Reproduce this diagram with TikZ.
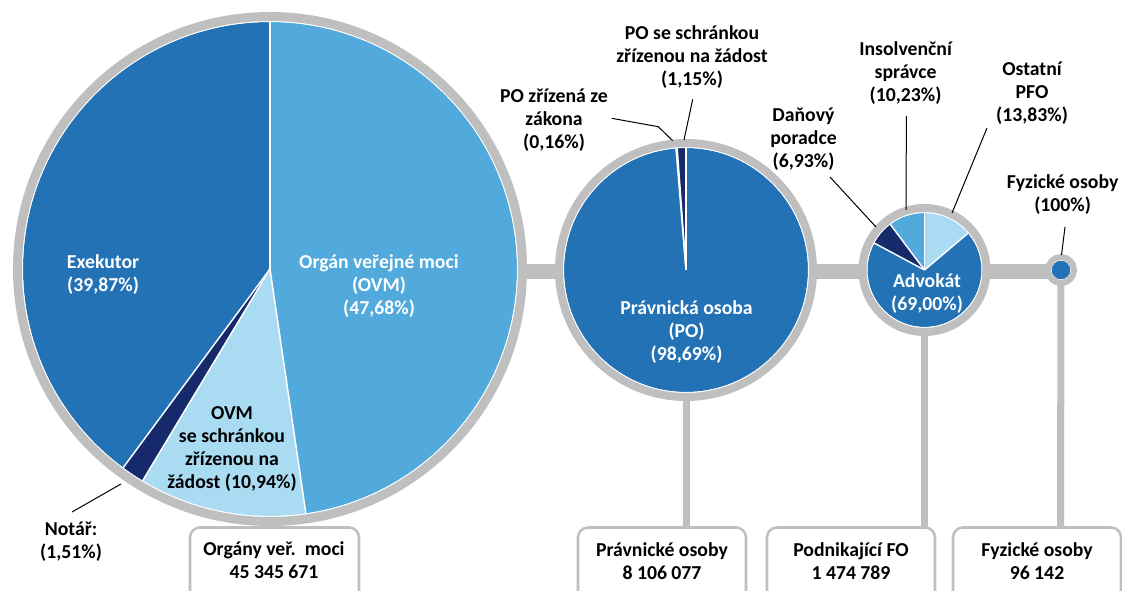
\documentclass[tikz,border=0pt]{standalone}
\usepackage{fontspec}
\setmainfont{Carlito}
\usetikzlibrary{calc}

\definecolor{bluemain}{RGB}{34,114,181}
\definecolor{bluemid}{RGB}{82,169,219}
\definecolor{bluelight}{RGB}{169,220,243}
\definecolor{navy}{RGB}{21,41,107}
\definecolor{ringgray}{RGB}{191,191,191}

% filled pie sector: centre, radius, start angle, end angle, colour
\newcommand{\pieslice}[5]{\fill[#5] (#1) -- ++(#3:#2) arc[start angle=#3, end angle=#4, radius=#2] -- cycle;}
% white separator between sectors: centre, angle, radius
\newcommand{\piesep}[3]{\draw[sep] (#1) -- ++(#2:#3);}

\tikzset{
  lbl/.style={font=\fontsize{14.8}{17.25}\selectfont\bfseries, align=center, inner sep=0pt, text=black},
  inlbl/.style={lbl, text=white},
  leader/.style={draw=black, line width=0.75pt},
  track/.style={draw=ringgray, line width=11.25pt},
  stem/.style={draw=ringgray, line width=5.25pt},
  cardbox/.style={draw=ringgray, line width=1.9pt, fill=white, rounded corners=7.5pt},
  sep/.style={draw=white, line width=1.1pt},
  rim/.style={draw=white, line width=0.75pt},
}

\begin{document}
\begin{tikzpicture}[x=0.75pt, y=0.75pt]
\useasboundingbox (0,0) rectangle (1122,590);
\clip (0,0) rectangle (1122,590);
\fill[white] (0,0) rectangle (1122,590);

% pie centres
\coordinate (cA) at (270,321);
\coordinate (cB) at (686,320);
\coordinate (cC) at (924.5,320);
\coordinate (cD) at (1061,320);

% card tops
\coordinate (topB) at (686,62.5);
\coordinate (topC) at (924.5,62.5);
\coordinate (topD) at (1060.5,62.5);

% horizontal track and vertical stems
\coordinate (trackL) at (270,318);
\coordinate (trackR) at (1061,318);
\draw[track] (trackL) -- (trackR);
\draw[stem] (cB) -- (topB);
\draw[stem] (cC) -- (topC);
\draw[stem] (cD |- trackR) -- (topD);

% cards at the bottom
\draw[cardbox] (190,-20) rectangle (359,62.5);
\draw[cardbox] (578,-20) rectangle (746,62.5);
\draw[cardbox] (767,-20) rectangle (935,62.5);
\draw[cardbox] (953,-20) rectangle (1121,62.5);

% ---- pie: Orgány veřejné moci ----
\pieslice{cA}{247}{90}{-81.648}{bluemid}
\pieslice{cA}{247}{-81.648}{-121.032}{bluelight}
\pieslice{cA}{247}{-121.032}{-126.468}{navy}
\pieslice{cA}{247}{-126.468}{-270}{bluemain}
\piesep{cA}{90}{247}
\piesep{cA}{-81.648}{247}
\piesep{cA}{-121.032}{247}
\piesep{cA}{-126.468}{247}
\draw[rim] (cA) circle[radius=247.5];
\draw[ringgray, line width=6.75pt] (cA) circle[radius=252.5];

% ---- pie: Právnické osoby ----
\pieslice{cB}{122}{90}{-265.284}{bluemain}
\pieslice{cB}{122}{-265.284}{-265.86}{bluemid}
\pieslice{cB}{122}{-265.86}{-270}{navy}
\piesep{cB}{90}{122}
\piesep{cB}{-265.284}{122}
\piesep{cB}{-265.86}{122}
\draw[rim] (cB) circle[radius=122.5];
\draw[ringgray, line width=6pt] (cB) circle[radius=127];

% ---- pie: Podnikající FO ----
\pieslice{cC}{57}{90}{40.212}{bluelight}
\pieslice{cC}{57}{40.212}{-208.188}{bluemain}
\pieslice{cC}{57}{-208.188}{-233.136}{navy}
\pieslice{cC}{57}{-233.136}{-270}{bluemid}
\piesep{cC}{90}{57}
\piesep{cC}{40.212}{57}
\piesep{cC}{-208.188}{57}
\piesep{cC}{-233.136}{57}
\draw[rim] (cC) circle[radius=57.5];
\draw[ringgray, line width=6pt] (cC) circle[radius=62];

% ---- dot: Fyzické osoby ----
\fill[bluemain] (cD) circle[radius=9.5];
\draw[rim] (cD) circle[radius=10];
\draw[ringgray, line width=4.5pt] (cD) circle[radius=13];

% ---- labels inside the pies ----
\node[inlbl] (ex)  at (103,315) {Exekutor\\(39,87\%)};
\node[inlbl] (ovm) at (379,304) {Orgán veřejné moci\\(OVM)\\(47,68\%)};
\node[lbl]   (ovms) at (232,141) {OVM\\se schránkou\\zřízenou na\\žádost (10,94\%)};
\node[inlbl] (po)  at (686.5,258) {Právnická osoba\\(PO)\\(98,69\%)};
\node[inlbl] (adv) at (927,296.5) {Advokát\\(69,00\%)};

% ---- outside labels ----
\node[lbl] (notar) at (71,48)    {Notář:\\(1,51\%)};
\node[lbl] (pos)   at (692,533)  {PO se schránkou\\zřízenou na žádost\\(1,15\%)};
\node[lbl] (poz)   at (554,470)  {PO zřízená ze\\zákona\\(0,16\%)};
\node[lbl] (dan)   at (803.5,451) {Daňový\\poradce\\(6,93\%)};
\node[lbl] (ins)   at (905.6,517) {Insolvenční\\správce\\(10,23\%)};
\node[lbl] (ost)   at (1032,497) {Ostatní\\PFO\\(13,83\%)};
\node[lbl] (fyz)   at (1062.6,395) {Fyzické osoby\\(100\%)};

% ---- card texts ----
\node[lbl] (cardA) at (274,29.5) {Orgány veř.\ \ moci\\45 345 671};
\node[lbl] (cardB) at (662,28.5) {Právnické osoby\\8 106 077};
\node[lbl] (cardC) at (851,28.5) {Podnikající FO\\1 474 789};
\node[lbl] (cardD) at (1037,28.5) {Fyzické osoby\\96 142};

% ---- leader lines ----
\coordinate (notarS) at (72,78);    \coordinate (notarE) at (121,106);
\coordinate (posS) at (692.7,490.7); \coordinate (posE) at (684,450);
\coordinate (pozS) at (611.7,471.7); \coordinate (pozK) at (658.3,463.3); \coordinate (pozE) at (672.7,449.3);
\coordinate (danS) at (830,413);    \coordinate (danE) at (876,363);
\coordinate (insS) at (906.4,474);  \coordinate (insE) at (906,380);
\coordinate (ostS) at (987,462);    \coordinate (ostE) at (952,377);
\coordinate (fyzS) at (1065,363);   \coordinate (fyzE) at (1061.5,335);
\draw[leader] (notarS) -- (notarE);
\draw[leader] (posS) -- (posE);
\draw[leader] (pozS) -- (pozK) -- (pozE);
\draw[leader] (danS) -- (danE);
\draw[leader] (insS) -- (insE);
\draw[leader] (ostS) -- (ostE);
\draw[leader] (fyzS) -- (fyzE);
\end{tikzpicture}
\end{document}
